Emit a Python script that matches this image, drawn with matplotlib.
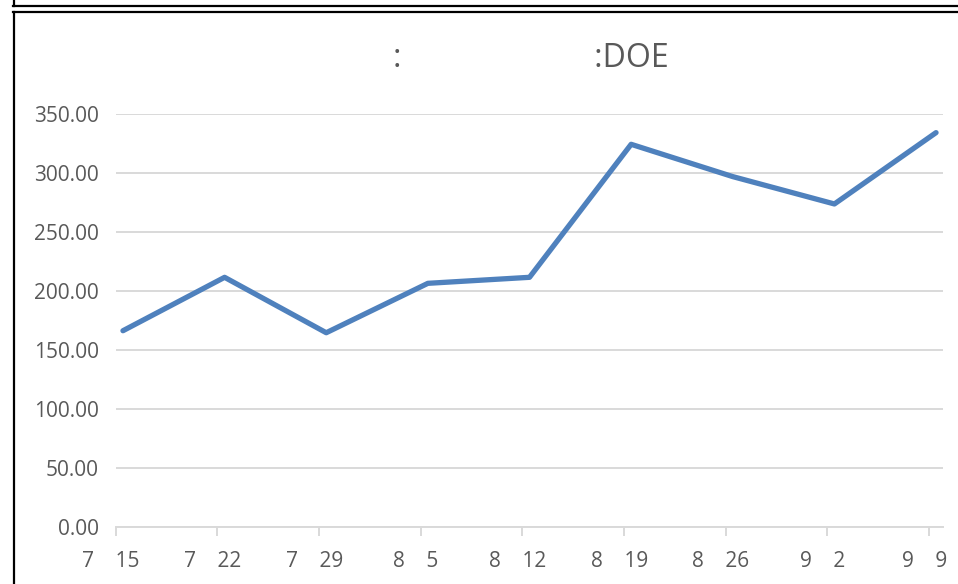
import matplotlib
matplotlib.use("Agg")
import matplotlib.pyplot as plt
from matplotlib.lines import Line2D
import matplotlib.transforms as mtransforms
import pandas as pd

# ---- data ----
months = [7, 7, 7, 8, 8, 8, 8, 9, 9]
days = [15, 22, 29, 5, 12, 19, 26, 2, 9]
values = [166.2, 211.5, 164.5, 206.4, 211.5, 324.3, 296.9, 273.7, 334.2]
title_text = ":" + " " * 23 + ":DOE"
y_ticks = [0, 50, 100, 150, 200, 250, 300, 350]

dates = pd.to_datetime([f"2019-{m:02d}-{d:02d}" for m, d in zip(months, days)])
offsets = [(d - dates[0]).days for d in dates]
tick_labels = [f"{m}    {d}" for m, d in zip(months, days)]

W, H, DPI = 958, 584, 100
fig = plt.figure(figsize=(W / DPI, H / DPI), dpi=DPI)
plt.rcParams['font.family'] = ['Open Sans', 'DejaVu Sans']

gray_text = "#595959"
grid_col = "#D9D9D9"

ax = fig.add_axes([115.7 / W, (H - 526.7) / H, (943.3 - 115.7) / W, (526.7 - 114) / H])
ax.plot([o + 0.5 for o in offsets], values, color="#4F81BD", lw=3.8,
        solid_capstyle="round", solid_joinstyle="round", zorder=3, clip_on=False)

ax.set_xlim(0, offsets[-1] + 1)
ax.set_ylim(0, 350)
ax.set_yticks(y_ticks)
ax.set_yticklabels([f"{v:.2f}" for v in y_ticks])
ax.set_xticks(offsets)
ax.set_xticklabels(tick_labels, va="baseline")

for s in ["top", "right", "left"]:
    ax.spines[s].set_visible(False)
ax.spines["bottom"].set_color(grid_col)
ax.spines["bottom"].set_linewidth(1.4)
ax.yaxis.grid(True, color=grid_col, lw=1.4)
ax.set_axisbelow(True)

ax.tick_params(axis="y", length=0, pad=12, labelsize=15, labelcolor=gray_text)
ax.tick_params(axis="x", length=6.5, width=1.4, color=grid_col, direction="out",
               pad=22.3, labelsize=15, labelcolor=gray_text)

offset = mtransforms.ScaledTranslation(-4.6 / DPI, 0, fig.dpi_scale_trans)
for lab in ax.get_xticklabels():
    lab.set_transform(lab.get_transform() + offset)

fig.text(531 / W, (H - 67.3) / H, title_text, ha="center", va="baseline",
         fontsize=23, color=gray_text)

# frames
def fline(x0, y0, x1, y1):
    fig.add_artist(Line2D([x0 / W, x1 / W], [1 - y0 / H, 1 - y1 / H],
                          transform=fig.transFigure, color="black", lw=1.6))

fline(13.5, 0, 13.5, 6)
fline(13, 5.5, W, 5.5)
fline(13.5, 12, 13.5, H)
fline(13, 12, W, 12)

fig.savefig("out.png", dpi=DPI)
